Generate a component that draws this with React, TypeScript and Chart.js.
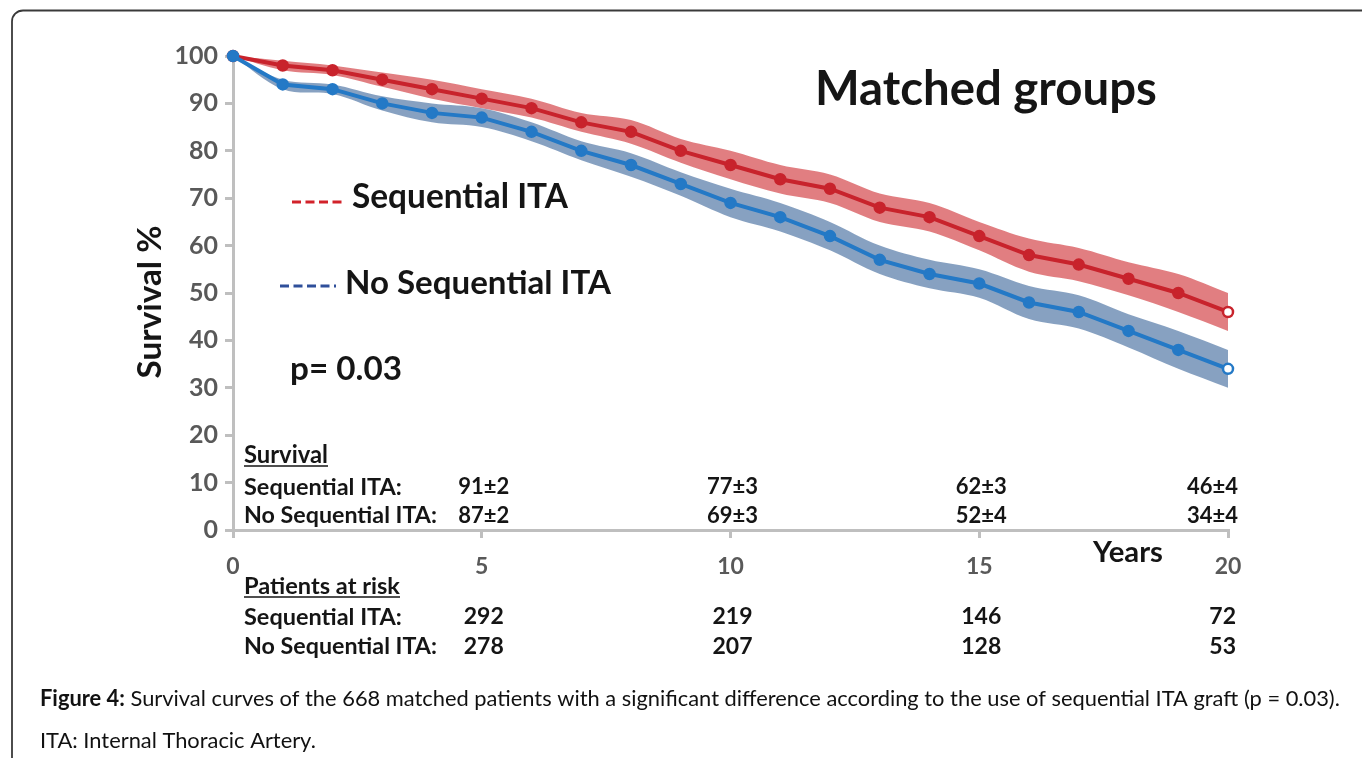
import { useEffect, useRef } from "react";
import { Chart, registerables } from "chart.js";

Chart.register(...registerables);

// ---------- data ----------
const years = [0, 1, 2, 3, 4, 5, 6, 7, 8, 9, 10, 11, 12, 13, 14, 15, 16, 17, 18, 19, 20];
const seqSurvival = [100, 98, 97, 95, 93, 91, 89, 86, 84, 80, 77, 74, 72, 68, 66, 62, 58, 56, 53, 50, 46];
const noSeqSurvival = [100, 94, 93, 90, 88, 87, 84, 80, 77, 73, 69, 66, 62, 57, 54, 52, 48, 46, 42, 38, 34];
const seqUpper = [100, 99, 98, 96.5, 95, 93, 91, 88, 86.5, 82.5, 80, 77, 75, 71, 69, 65, 61.5, 59.5, 56.5, 54, 50];
const seqLower = [100, 97, 96, 93.5, 91, 89, 87, 84, 81.5, 77.5, 74, 71, 69, 65, 63, 59, 54.5, 52.5, 49.5, 46, 42];
const noSeqUpper = [100, 95, 94, 91.5, 90, 89, 86, 82, 79.5, 75.5, 72, 69, 65, 60, 57, 55, 51.5, 49.5, 45.5, 42, 38];
const noSeqLower = [100, 93, 92, 88.5, 86, 85, 82, 78, 74.5, 70.5, 66, 63, 59, 54, 51, 49, 44.5, 42.5, 38.5, 34, 30];

const seriesNames = ["Sequential ITA", "No Sequential ITA"];
const tableYears = [5, 10, 15, 20];
const seqSurvivalText = ["91±2", "77±3", "62±3", "46±4"];
const noSeqSurvivalText = ["87±2", "69±3", "52±4", "34±4"];
const seqAtRisk = ["292", "219", "146", "72"];
const noSeqAtRisk = ["278", "207", "128", "53"];

const titleText = "Matched groups";
const pValueText = "p= 0.03";
const yTitle = "Survival %";
const xTitle = "Years";
const captionBold = "Figure 4:";
const captionRest =
  " Survival curves of the 668 matched patients with a significant difference according to the use of sequential ITA graft (p = 0.03).";
const captionLine2 = "ITA: Internal Thoracic Artery.";

// ---------- style ----------
const FONT = "Lato, 'Open Sans', sans-serif";
const RED = "#c8232c";
const BLUE = "#2479c6";
const RED_BAND = "rgba(222, 112, 115, 0.9)";
const BLUE_BAND = "rgba(125, 153, 188, 0.92)";
const AXIS = "#bfbfbf";
const TICK_TXT = "#595959";
const TXT = "#151515";

type TOpts = {
  size: number;
  w?: number;
  weight?: string;
  color?: string;
  align?: CanvasTextAlign;
};

function drawText(ctx: CanvasRenderingContext2D, s: string, x: number, y: number, o: TOpts) {
  ctx.save();
  const weight = o.weight ?? "bold";
  let size = o.size;
  ctx.font = `${weight} ${size}px ${FONT}`;
  if (o.w) {
    const m = ctx.measureText(s).width;
    size = (size * o.w) / m;
    ctx.font = `${weight} ${size}px ${FONT}`;
  }
  ctx.fillStyle = o.color ?? TXT;
  ctx.textAlign = o.align ?? "left";
  ctx.textBaseline = "middle";
  ctx.fillText(s, x, y);
  ctx.restore();
}

function underline(ctx: CanvasRenderingContext2D, x1: number, x2: number, y: number) {
  ctx.save();
  ctx.strokeStyle = TXT;
  ctx.lineWidth = 1.6;
  ctx.beginPath();
  ctx.moveTo(x1, y);
  ctx.lineTo(x2, y);
  ctx.stroke();
  ctx.restore();
}

function dashes(ctx: CanvasRenderingContext2D, x1: number, x2: number, y: number, color: string) {
  ctx.save();
  ctx.strokeStyle = color;
  ctx.lineWidth = 3;
  ctx.setLineDash([9, 4.5]);
  ctx.beginPath();
  ctx.moveTo(x1, y);
  ctx.lineTo(x2, y);
  ctx.stroke();
  ctx.restore();
}

const overlayPlugin = {
  id: "overlay",
  afterDraw(chart: any) {
    const ctx: CanvasRenderingContext2D = chart.ctx;
    const xs = chart.scales.x;

    // frame
    ctx.save();
    ctx.strokeStyle = "#3a3a3a";
    ctx.lineWidth = 1.8;
    ctx.beginPath();
    ctx.moveTo(12, 760);
    ctx.lineTo(12, 22);
    ctx.arcTo(12, 10.5, 24, 10.5, 11);
    ctx.lineTo(1364, 10.5);
    ctx.stroke();
    ctx.restore();

    // title
    drawText(ctx, titleText, 815, 90, { size: 40, w: 342 });

    // legend
    dashes(ctx, 292, 344, 202, "#d2222a");
    drawText(ctx, seriesNames[0], 352, 197, { size: 28, w: 216 });
    dashes(ctx, 280, 336, 286, "#2f4f9a");
    drawText(ctx, seriesNames[1], 345, 283, { size: 28, w: 266 });

    // p value
    drawText(ctx, pValueText, 290, 369, { size: 30, w: 112 });

    // y title
    ctx.save();
    ctx.translate(150, 302);
    ctx.rotate(-Math.PI / 2);
    drawText(ctx, yTitle, 0, 0, { size: 28, w: 153, align: "center" });
    ctx.restore();

    // x title
    drawText(ctx, xTitle, 1128, 553, { size: 24, w: 70, align: "center" });

    // survival table
    drawText(ctx, "Survival", 244, 455, { size: 20, w: 84 });
    underline(ctx, 244, 328, 466);
    drawText(ctx, seriesNames[0] + ":", 244, 487, { size: 20, w: 158 });
    drawText(ctx, seriesNames[1] + ":", 244, 516, { size: 20, w: 193 });

    const colX = (i: number) => {
      const px = xs.getPixelForValue(tableYears[i]);
      return i === tableYears.length - 1
        ? { x: px + 10, a: "right" as CanvasTextAlign }
        : { x: px + 2, a: "center" as CanvasTextAlign };
    };
    tableYears.forEach((_, i) => {
      const c = colX(i);
      drawText(ctx, seqSurvivalText[i], c.x, 487, { size: 22, align: c.a });
      drawText(ctx, noSeqSurvivalText[i], c.x, 516, { size: 22, align: c.a });
    });

    // patients at risk
    drawText(ctx, "Patients at risk", 244, 586, { size: 20, w: 156 });
    underline(ctx, 244, 400, 597);
    drawText(ctx, seriesNames[0] + ":", 244, 617, { size: 20, w: 158 });
    drawText(ctx, seriesNames[1] + ":", 244, 647, { size: 20, w: 193 });
    tableYears.forEach((_, i) => {
      const c = colX(i);
      const x = i === tableYears.length - 1 ? c.x - 2 : c.x;
      drawText(ctx, seqAtRisk[i], x, 617, { size: 23, align: c.a });
      drawText(ctx, noSeqAtRisk[i], x, 647, { size: 23, align: c.a });
    });

    // caption
    ctx.save();
    let size = 20;
    ctx.font = `bold ${size}px ${FONT}`;
    const wb = ctx.measureText(captionBold).width;
    ctx.font = `normal ${size}px ${FONT}`;
    const wr = ctx.measureText(captionRest).width;
    size = (size * 1300) / (wb + wr);
    ctx.restore();
    ctx.save();
    ctx.fillStyle = "#111";
    ctx.textBaseline = "middle";
    ctx.font = `bold ${size}px ${FONT}`;
    ctx.fillText(captionBold, 40, 699);
    const wb2 = ctx.measureText(captionBold).width;
    ctx.font = `normal ${size}px ${FONT}`;
    ctx.fillText(captionRest, 40 + wb2, 699);
    ctx.fillText(captionLine2, 40, 741);
    ctx.restore();
  },
};

export default function App() {
  const ref = useRef<HTMLCanvasElement | null>(null);

  useEffect(() => {
    if (!ref.current) return;
    document.body.style.margin = "0";
    const pts = (arr: number[]) => years.map((x, i) => ({ x, y: arr[i] }));
    const lastWhite = (c: string) => years.map((_, i) => (i === years.length - 1 ? "#ffffff" : c));

    const chart = new Chart(ref.current, {
      type: "line",
      data: {
        datasets: [
          {
            label: seriesNames[1],
            data: pts(noSeqSurvival),
            borderColor: BLUE,
            backgroundColor: lastWhite(BLUE),
            pointBackgroundColor: lastWhite(BLUE),
            pointBorderColor: BLUE,
            pointRadius: 5,
            pointBorderWidth: 2.5,
            borderWidth: 4,
            tension: 0,
            fill: false,
            clip: false,
            order: 0,
          } as any,
          {
            label: seriesNames[0],
            data: pts(seqSurvival),
            borderColor: RED,
            backgroundColor: lastWhite(RED),
            pointBackgroundColor: lastWhite(RED),
            pointBorderColor: RED,
            pointRadius: 5,
            pointBorderWidth: 2.5,
            borderWidth: 4,
            tension: 0,
            fill: false,
            clip: false,
            order: 1,
          } as any,
          {
            label: "seqUpper",
            data: pts(seqUpper),
            borderWidth: 0,
            pointRadius: 0,
            backgroundColor: RED_BAND,
            fill: "+1",
            tension: 0.35,
            clip: false,
            order: 3,
          } as any,
          {
            label: "seqLower",
            data: pts(seqLower),
            borderWidth: 0,
            pointRadius: 0,
            fill: false,
            tension: 0.35,
            clip: false,
            order: 3,
          } as any,
          {
            label: "noSeqUpper",
            data: pts(noSeqUpper),
            borderWidth: 0,
            pointRadius: 0,
            backgroundColor: BLUE_BAND,
            fill: "+1",
            tension: 0.35,
            clip: false,
            order: 2,
          } as any,
          {
            label: "noSeqLower",
            data: pts(noSeqLower),
            borderWidth: 0,
            pointRadius: 0,
            fill: false,
            tension: 0.35,
            clip: false,
            order: 2,
          } as any,
        ],
      },
      options: {
        responsive: false,
        animation: false,
        layout: { padding: { top: 56, right: 134, left: 0, bottom: 0 } },
        plugins: { legend: { display: false }, tooltip: { enabled: false }, title: { display: false } },
        scales: {
          x: {
            type: "linear",
            min: 0,
            max: 20,
            afterFit: (s: any) => {
              s.height = 228;
            },
            ticks: {
              stepSize: 5,
              padding: 15,
              color: TICK_TXT,
              font: { family: FONT, size: 23, weight: "bold" },
            },
            grid: { drawOnChartArea: false, drawTicks: true, tickLength: 8, color: AXIS, lineWidth: 3 },
            border: { display: true, color: AXIS, width: 3 },
          },
          y: {
            type: "linear",
            min: 0,
            max: 100,
            afterFit: (s: any) => {
              s.width = 233;
            },
            ticks: {
              stepSize: 10,
              padding: 7,
              color: TICK_TXT,
              font: { family: FONT, size: 25, weight: "bold" },
            },
            grid: { drawOnChartArea: false, drawTicks: true, tickLength: 8, color: AXIS, lineWidth: 3 },
            border: { display: true, color: AXIS, width: 3 },
          },
        },
      },
      plugins: [overlayPlugin],
    });
    return () => chart.destroy();
  }, []);

  return (
    <div style={{ position: "fixed", left: 0, top: 0, width: 1362, height: 758, background: "#fff" }}>
      <canvas ref={ref} width={1362} height={758} style={{ width: 1362, height: 758, display: "block" }} />
    </div>
  );
}
